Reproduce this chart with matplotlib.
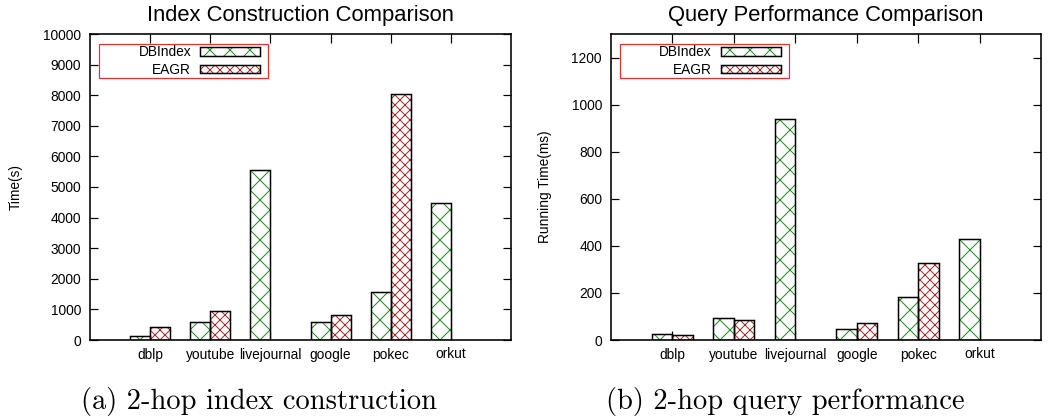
import numpy as np
import matplotlib
matplotlib.use('Agg')
import matplotlib.pyplot as plt
from matplotlib.patches import Patch, Rectangle

# data
categories = ['dblp', 'youtube', 'livejournal', 'google', 'pokec', 'orkut']
build_dbindex = [120, 590, 5540, 590, 1570, 4470]
build_eagr = [420, 950, np.nan, 815, 8050, np.nan]
query_dbindex = [26, 93, 941, 47, 184, 429]
query_eagr = [21, 86, np.nan, 72, 327, np.nan]

DPI = 120
W, H = 1049, 417
PT = 72.0 / DPI  # pixels -> points

plt.rcParams['font.family'] = ['Liberation Sans', 'DejaVu Sans']
plt.rcParams['hatch.linewidth'] = 1.0 * PT

green = '#228b22'
red = '#a52a2a'
fs = 13.7 * PT
hatch_db = 'xx'
hatch_eagr = 'xxxx'

fig = plt.figure(figsize=(W / DPI, H / DPI), dpi=DPI)


def panel(left_px, right_px, db, eagr, ymax, yticks, title, ylabel, ylab_px, caption, cap_px):
    ax = fig.add_axes([left_px / W, (H - 340) / H, (right_px - left_px) / W, 306 / H])
    x = np.arange(1, len(categories) + 1)
    w = 1 / 3.
    db = np.array(db, dtype=float)
    eagr = np.array(eagr, dtype=float)
    m = ~np.isnan(eagr)

    # hatched fill, then black outline on top
    ax.bar(x - w / 2, db, w, facecolor='white', edgecolor=green, hatch=hatch_db, linewidth=0, zorder=2)
    ax.bar(x - w / 2, db, w, fill=False, edgecolor='black', linewidth=1.5 * PT, zorder=3)
    ax.bar(x[m] + w / 2, eagr[m], w, facecolor='white', edgecolor=red, hatch=hatch_eagr, linewidth=0, zorder=2)
    ax.bar(x[m] + w / 2, eagr[m], w, fill=False, edgecolor='black', linewidth=1.5 * PT, zorder=3)

    ax.set_xlim(0, 7)
    ax.set_ylim(0, ymax)
    ax.set_xticks(x)
    ax.set_xticklabels(categories, fontsize=fs)
    ax.set_yticks(yticks)
    ax.tick_params(axis='y', direction='in', left=True, right=True, length=8 * PT,
                   width=1.2 * PT, labelsize=fs, pad=9 * PT)
    ax.tick_params(axis='x', direction='in', bottom=True, top=True, length=9 * PT,
                   width=1.2 * PT, labelsize=fs, pad=7.5 * PT)
    for s in ax.spines.values():
        s.set_linewidth(1.6 * PT)

    ax.set_title(title, fontsize=22 * PT, pad=13 * PT)
    ax.set_ylabel(ylabel, fontsize=fs)
    ax.yaxis.set_label_coords((ylab_px - left_px) / (right_px - left_px), 0.5)

    # legend: text right-aligned, swatch on the right (gnuplot style)
    handles = [
        (Patch(facecolor='white', edgecolor=green, hatch=hatch_db, linewidth=0),
         Patch(fill=False, edgecolor='black', linewidth=1.5 * PT)),
        (Patch(facecolor='white', edgecolor=red, hatch=hatch_eagr, linewidth=0),
         Patch(fill=False, edgecolor='black', linewidth=1.5 * PT)),
    ]
    anchor_x = (left_px + 170) / W
    anchor_y = 1 - 45.5 / H
    ax.legend(handles, ['DBIndex', 'EAGR'], loc='upper right',
              bbox_to_anchor=(anchor_x, anchor_y), bbox_transform=fig.transFigure,
              frameon=False, markerfirst=False, fontsize=fs,
              handlelength=60 / 13.7, handleheight=8 / 13.7, handletextpad=9 / 13.7,
              labelspacing=0.25, borderpad=0, borderaxespad=0)
    fig.add_artist(Rectangle(((left_px + 9) / W, 1 - 78 / H), 169 / W, 34 / H,
                             transform=fig.transFigure, fill=False,
                             edgecolor='#ee2b2b', linewidth=1.2 * PT))

    fig.text(cap_px / W, 1 - 401 / H, caption, ha='center', va='center',
             fontsize=28.5 * PT, family=['cmr10', 'DejaVu Serif'])
    return ax


panel(90, 511, build_dbindex, build_eagr, 10000, np.arange(0, 10001, 1000),
      'Index Construction Comparison', 'Time(s)', 23, '(a) 2-hop index construction', 259)
panel(611, 1041, query_dbindex, query_eagr, 1300, np.arange(0, 1201, 200),
      'Query Performance Comparison', 'Running Time(ms)', 552, '(b) 2-hop query performance', 785)

fig.savefig('out.png', dpi=DPI)
